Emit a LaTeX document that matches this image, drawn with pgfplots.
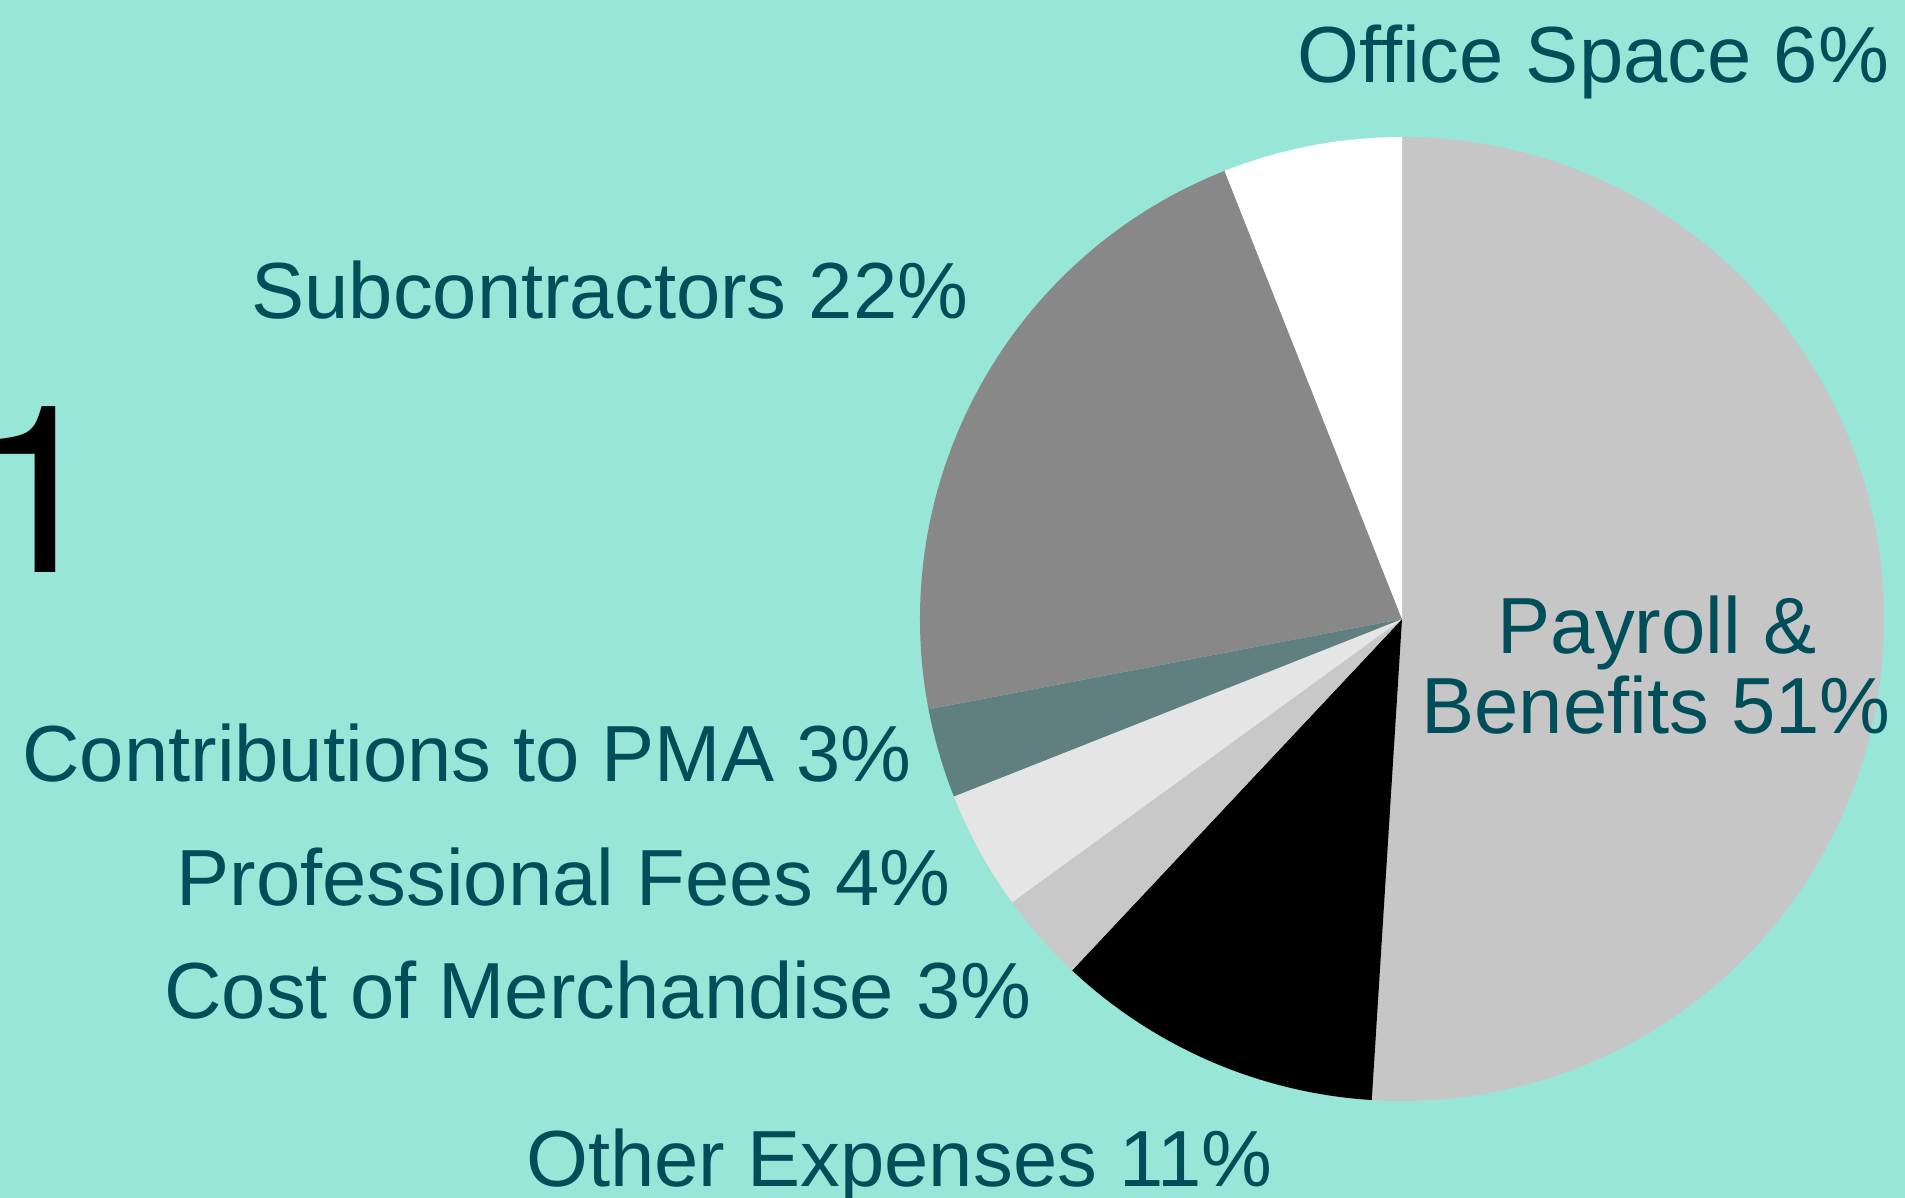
\documentclass[border=0pt]{standalone}
\usepackage{pgfplots}
\pgfplotsset{compat=1.18}
\usepackage{fontspec}
\setmainfont{Liberation Sans}
\newfontfamily\heros{TeX Gyre Heros}
\definecolor{bg}{HTML}{98E6D8}
\definecolor{txt}{HTML}{004E5A}
\definecolor{cPay}{HTML}{C6C6C6}
\definecolor{cOther}{HTML}{000000}
\definecolor{cCost}{HTML}{C8C8C8}
\definecolor{cProf}{HTML}{E5E5E5}
\definecolor{cPMA}{HTML}{607F80}
\definecolor{cSub}{HTML}{888888}
\definecolor{cOffice}{HTML}{FFFFFF}
% slice: cumulative percent before slice, value percent, colour
\newcommand{\pieslice}[3]{%
  \fill[#3] (axis cs:1402,619) -- ++({90-3.6*#1}:241pt)
    arc[start angle={90-3.6*#1}, end angle={90-3.6*(#1+#2)}, radius=241pt] -- cycle;}
\begin{document}
\begin{tikzpicture}
\begin{axis}[
  width=952.5pt, height=599pt, scale only axis,
  xmin=0, xmax=1905, ymin=0, ymax=1198, y dir=reverse,
  hide axis, clip=false,
  axis background/.style={fill=bg},
]
% values (percent): Payroll 51, Other 11, Cost 3, Prof 4, PMA 3, Sub 22, Office 6
\pieslice{0}{51}{cPay}
\pieslice{51}{11}{cOther}
\pieslice{62}{3}{cCost}
\pieslice{65}{4}{cProf}
\pieslice{69}{3}{cPMA}
\pieslice{72}{22}{cSub}
\pieslice{94}{6}{cOffice}
\begin{scope}[every node/.style={inner sep=0pt, text=txt, font=\fontsize{39.8}{45}\selectfont}]
\node[anchor=base west] at (axis cs:1297,83) {Office Space 6\%};
\node[anchor=base west] at (axis cs:251,318) {Subcontractors 22\%};
\node[anchor=base west] at (axis cs:22,781) {Contributions to PMA 3\%};
\node[anchor=base west] at (axis cs:176,905) {Professional Fees 4\%};
\node[anchor=base west] at (axis cs:164,1018) {Cost of Merchandise 3\%};
\node[anchor=base west] at (axis cs:526,1186) {Other Expenses 11\%};
\node[anchor=base] at (axis cs:1657,653) {Payroll \&};
\node[anchor=base] at (axis cs:1656,733) {Benefits 51\%};
\end{scope}
\node[anchor=base west, inner sep=0pt, text=black, font=\heros\fontsize{117}{120}\selectfont] at (axis cs:-26,572) {1};
\end{axis}
\pgfresetboundingbox
\useasboundingbox (current axis.south west) rectangle (current axis.north east);
\end{tikzpicture}
\end{document}
